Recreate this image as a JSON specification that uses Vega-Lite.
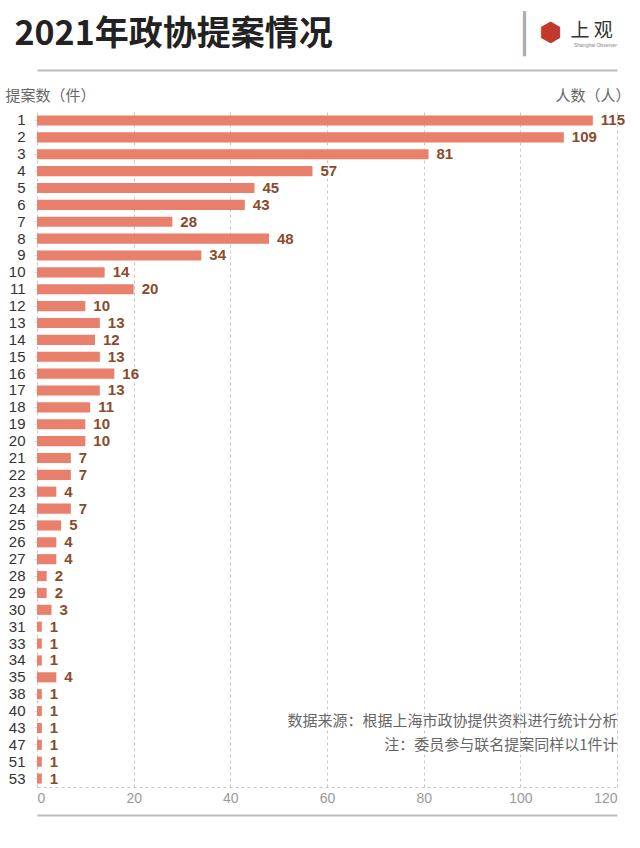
{
  "$schema": "https://vega.github.io/schema/vega-lite/v6.json",
  "autosize": "none",
  "width": 580,
  "height": 675,
  "padding": {"left": 37, "top": 112, "right": 23, "bottom": 61},
  "background": "white",
  "config": {"view": {"stroke": null}},
  "data": {"values": [
    {"cases": 1, "people": 115}, {"cases": 2, "people": 109}, {"cases": 3, "people": 81},
    {"cases": 4, "people": 57}, {"cases": 5, "people": 45}, {"cases": 6, "people": 43},
    {"cases": 7, "people": 28}, {"cases": 8, "people": 48}, {"cases": 9, "people": 34},
    {"cases": 10, "people": 14}, {"cases": 11, "people": 20}, {"cases": 12, "people": 10},
    {"cases": 13, "people": 13}, {"cases": 14, "people": 12}, {"cases": 15, "people": 13},
    {"cases": 16, "people": 16}, {"cases": 17, "people": 13}, {"cases": 18, "people": 11},
    {"cases": 19, "people": 10}, {"cases": 20, "people": 10}, {"cases": 21, "people": 7},
    {"cases": 22, "people": 7}, {"cases": 23, "people": 4}, {"cases": 24, "people": 7},
    {"cases": 25, "people": 5}, {"cases": 26, "people": 4}, {"cases": 27, "people": 4},
    {"cases": 28, "people": 2}, {"cases": 29, "people": 2}, {"cases": 30, "people": 3},
    {"cases": 31, "people": 1}, {"cases": 33, "people": 1}, {"cases": 34, "people": 1},
    {"cases": 35, "people": 4}, {"cases": 38, "people": 1}, {"cases": 40, "people": 1},
    {"cases": 43, "people": 1}, {"cases": 47, "people": 1}, {"cases": 51, "people": 1},
    {"cases": 53, "people": 1}
  ]},
  "resolve": {"axis": {"x": "independent", "y": "independent"}},
  "layer": [
    {
      "mark": {"type": "bar", "color": "#E8806C"},
      "encoding": {
        "y": {"field": "cases", "type": "ordinal",
          "scale": {"paddingInner": 0.4, "paddingOuter": 0.2},
          "axis": {"orient": "left", "title": "提案数（件）", "titleX": -32, "titleY": -17,
            "titleAngle": 0, "titleAlign": "left", "titleBaseline": "middle",
            "titleFont": "Noto Sans CJK SC", "titleFontSize": 15, "titleFontWeight": "normal", "titleColor": "#666",
            "labelFont": "Liberation Sans", "labelFontSize": 15, "labelColor": "#333", "labelPadding": 9,
            "ticks": true, "tickSize": 3, "tickColor": "#ddd", "domain": false, "grid": false}},
        "x": {"field": "people", "type": "quantitative",
          "scale": {"domain": [0, 120], "nice": false},
          "axis": {"orient": "bottom", "values": [0, 20, 40, 60, 80, 100, 120],
            "grid": true, "gridDash": [3, 3], "gridColor": "#c8c8c8", "gridWidth": 1,
            "domain": true, "domainDash": [3, 3], "domainColor": "#c8c8c8",
            "ticks": false, "labelPadding": 4, "labelFont": "Liberation Sans", "labelFontSize": 14,
            "labelColor": "#999",
            "title": ["数据来源：根据上海市政协提供资料进行统计分析", "注：委员参与联名提案同样以1件计"],
            "titleX": 580, "titleY": -74, "titleAlign": "right", "titleBaseline": "top", "titleAngle": 0,
            "titleLineHeight": 24, "titleFont": "Noto Sans CJK SC", "titleFontSize": 15,
            "titleFontWeight": "normal", "titleColor": "#666"}}
      }
    },
    {
      "mark": {"type": "text", "align": "left", "baseline": "middle", "dx": 8,
        "font": "Liberation Sans", "fontSize": 15, "fontWeight": "bold", "color": "#8A4A2C"},
      "encoding": {
        "y": {"field": "cases", "type": "ordinal",
          "axis": {"orient": "right", "labels": false, "ticks": false, "domain": false, "grid": false,
            "title": "上 观", "titleX": -26, "titleY": -82, "titleAngle": 0, "titleAlign": "center",
            "titleBaseline": "middle", "titleFont": "Noto Sans CJK SC", "titleFontSize": 19,
            "titleFontWeight": "normal", "titleColor": "#333"}},
        "x": {"field": "people", "type": "quantitative",
          "axis": {"orient": "top", "offset": 42, "labels": false, "ticks": false, "grid": false,
            "domain": true, "domainColor": "#bbb", "domainWidth": 2,
            "title": "人数（人）", "titleX": 593, "titleY": 25, "titleAngle": 0, "titleAlign": "right",
            "titleBaseline": "middle", "titleFont": "Noto Sans CJK SC", "titleFontSize": 15,
            "titleFontWeight": "normal", "titleColor": "#666"}},
        "text": {"field": "people", "type": "quantitative"}
      }
    },
    {
      "mark": {"type": "bar", "opacity": 0},
      "encoding": {
        "y": {"field": "cases", "type": "ordinal",
          "axis": {"orient": "right", "labels": false, "ticks": false, "domain": false, "grid": false,
            "title": "⬢", "titleX": -67, "titleY": -80, "titleAngle": 0, "titleAlign": "center",
            "titleBaseline": "middle", "titleFont": "DejaVu Sans", "titleFontSize": 26,
            "titleFontWeight": "normal", "titleColor": "#C0392B"}},
        "x": {"field": "people", "type": "quantitative",
          "axis": {"orient": "bottom", "offset": 28, "labels": false, "ticks": false, "grid": false,
            "domain": true, "domainColor": "#bbb", "domainWidth": 2,
            "title": "Shanghai Observer", "titleX": 558, "titleY": -771, "titleAngle": 0, "titleAlign": "center",
            "titleBaseline": "middle", "titleFont": "Liberation Sans", "titleFontSize": 5,
            "titleFontWeight": "normal", "titleColor": "#888"}}
      }
    },
    {
      "mark": {"type": "bar", "opacity": 0},
      "encoding": {
        "y": {"field": "cases", "type": "ordinal",
          "axis": {"orient": "left", "labels": false, "ticks": false, "domain": false, "grid": false,
            "title": "2021年政协提案情况", "titleX": -23, "titleY": -78, "titleAngle": 0, "titleAlign": "left",
            "titleBaseline": "middle", "titleFont": "Noto Sans CJK SC", "titleFontSize": 34,
            "titleFontWeight": "bold", "titleColor": "#222"}},
        "x": {"field": "people", "type": "quantitative",
          "axis": {"orient": "top", "labels": false, "ticks": false, "grid": false, "domain": false,
            "title": "│", "titleX": 487, "titleY": -77, "titleAngle": 0, "titleAlign": "center",
            "titleBaseline": "middle", "titleFont": "DejaVu Sans", "titleFontSize": 38,
            "titleFontWeight": "normal", "titleColor": "#aaa"}}
      }
    }
  ]
}
